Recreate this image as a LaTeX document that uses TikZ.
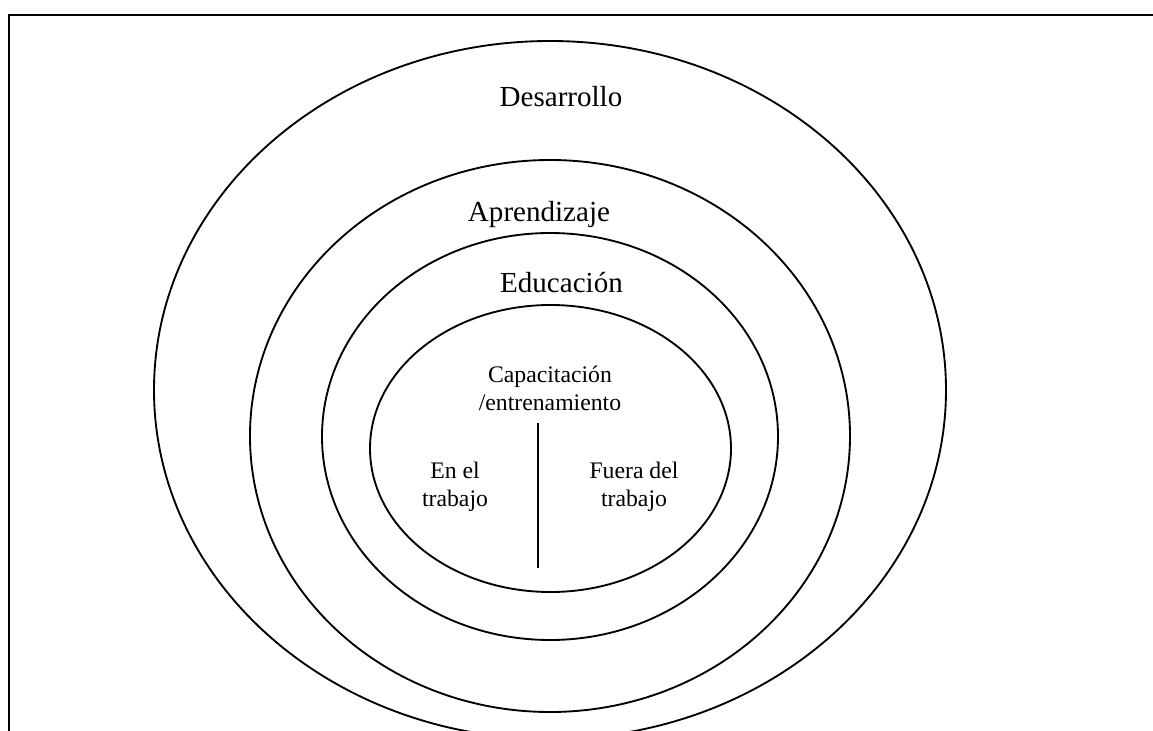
\documentclass[tikz,border=0pt]{standalone}
\usepackage{fontspec}
\setmainfont{Liberation Serif}
\usetikzlibrary{positioning}

\begin{document}
\begin{tikzpicture}[x=0.75pt,y=-0.75pt,
 ring/.style={draw,line width=1.4pt},
 big/.style={font=\fontsize{21.8}{25}\selectfont,anchor=base,inner sep=0pt},
 small/.style={font=\fontsize{17.8}{20.3}\selectfont,align=center,anchor=base,inner sep=0pt}]
\clip (0,0) rectangle (1153,731);
% frame (top and left edge only)
\draw[line width=2.2pt] (9,731) -- (9,15) -- (1153,15);
% nested rings
\draw[ring] (550,390) ellipse [x radius=396,y radius=349];
\draw[ring] (550,436) ellipse [x radius=300,y radius=276];
\draw[ring] (550,436.5) ellipse [x radius=228,y radius=203.5];
\draw[ring] (550.5,448.5) ellipse [x radius=180.5,y radius=143.5];
% labels
\node[big] (desarrollo) at (561,107) {Desarrollo};
\node[big] (aprendizaje) at (539,221) {Aprendizaje};
\node[big] (educacion) at (561.5,292) {Educación};
\node[small] (capacitacion) at (550,410) {Capacitación\\/entrenamiento};
\node[small] (dentro) at (455,506) {En el\\trabajo};
\node[small] (fuera) at (634,506) {Fuera del\\trabajo};
% divider
\coordinate (div top) at (538,423);
\coordinate (div bottom) at (538,568);
\draw[line width=1.4pt] (div top) -- (div bottom);
\end{tikzpicture}
\end{document}
